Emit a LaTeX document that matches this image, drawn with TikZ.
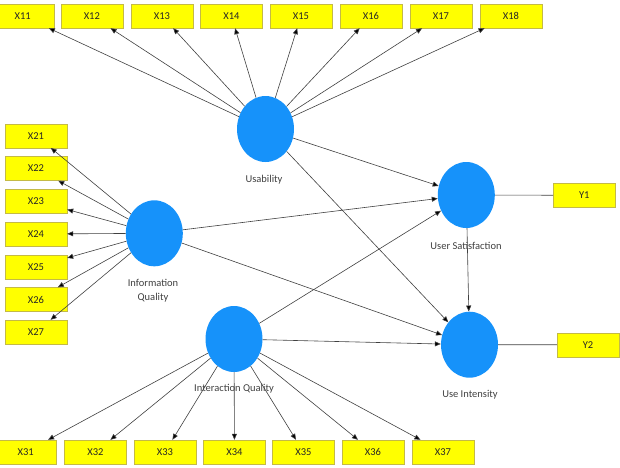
\documentclass[tikz,border=0pt]{standalone}
\usepackage{fontspec}
\setmainfont{Carlito}
\usepackage{xcolor}
\usepackage{tikz}
\usetikzlibrary{arrows.meta,shapes.geometric}

\definecolor{latentblue}{RGB}{22,146,250}
\definecolor{itemyellow}{RGB}{255,255,0}
\definecolor{itemedge}{RGB}{196,186,70}

\begin{document}
\begin{tikzpicture}[x=1pt,y=-1pt,
  item/.style={rectangle, draw=itemedge, fill=itemyellow, minimum width=62pt, minimum height=24pt, inner sep=0pt, font=\fontsize{10.5}{11}\selectfont, text=black!85},
  latent/.style={ellipse, fill=latentblue, minimum width=57pt, minimum height=66pt, inner sep=0pt},
  caption/.style={font=\fontsize{10.5}{14}\selectfont, text=black!75, align=center},
  load/.style={draw=black!75, line width=0.6pt, -{Triangle[length=6pt,width=5pt]}},
  plain/.style={draw=black!75, line width=0.6pt}]

\useasboundingbox (0,0) rectangle (620,467);

\node[latent] (us) at (265.5,129) {};
\node[latent] (iq) at (154.3,233.3) {};
\node[latent] (inq) at (234,339) {};
\node[latent] (sat) at (466.3,195) {};
\node[latent] (int) at (469.5,344.7) {};

\node[caption] (uslab) at (264,180) {Usability};
\node[caption] (iqlab) at (153,291) {Information\\Quality};
\node[caption] (inqlab) at (234,389) {Interaction Quality};
\node[caption] (satlab) at (466,245.5) {User Satisfaction};
\node[caption] (intlab) at (470,395) {Use Intensity};

\node[item] (x11) at (22.7,16) {X11};
\node[item] (x12) at (91.8,16) {X12};
\node[item] (x13) at (162,16) {X13};
\node[item] (x14) at (231.4,16) {X14};
\node[item] (x15) at (301,16) {X15};
\node[item] (x16) at (371,16) {X16};
\node[item] (x17) at (441,16) {X17};
\node[item] (x18) at (511,16) {X18};

\node[item] (x21) at (36,135.7) {X21};
\node[item] (x22) at (36,168.5) {X22};
\node[item] (x23) at (36,201) {X23};
\node[item] (x24) at (36,234) {X24};
\node[item] (x25) at (36,266.7) {X25};
\node[item] (x26) at (36,299.5) {X26};
\node[item] (x27) at (36,332) {X27};

\node[item] (x31) at (25.6,452) {X31};
\node[item] (x32) at (95.5,452) {X32};
\node[item] (x33) at (165,452) {X33};
\node[item] (x34) at (234.5,452) {X34};
\node[item] (x35) at (303.5,452) {X35};
\node[item] (x36) at (373,452) {X36};
\node[item] (x37) at (443,452) {X37};

\node[item] (y1) at (584.3,195.3) {Y1};
\node[item] (y2) at (588,344.8) {Y2};

\path[load] (us) edge (x11) edge (x12) edge (x13) edge (x14)
                 edge (x15) edge (x16) edge (x17) edge (x18);
\path[load] (iq) edge (x21) edge (x22) edge (x23) edge (x24)
                 edge (x25) edge (x26) edge (x27);
\path[load] (inq) edge (x31) edge (x32) edge (x33) edge (x34)
                  edge (x35) edge (x36) edge (x37);

\path[load] (us) edge (sat) edge (int)
            (iq) edge (sat) edge (int)
            (inq) edge (sat) edge (int)
            (sat) edge (int);

\draw[plain] (sat) -- (y1)
             (int) -- (y2);
\end{tikzpicture}
\end{document}
